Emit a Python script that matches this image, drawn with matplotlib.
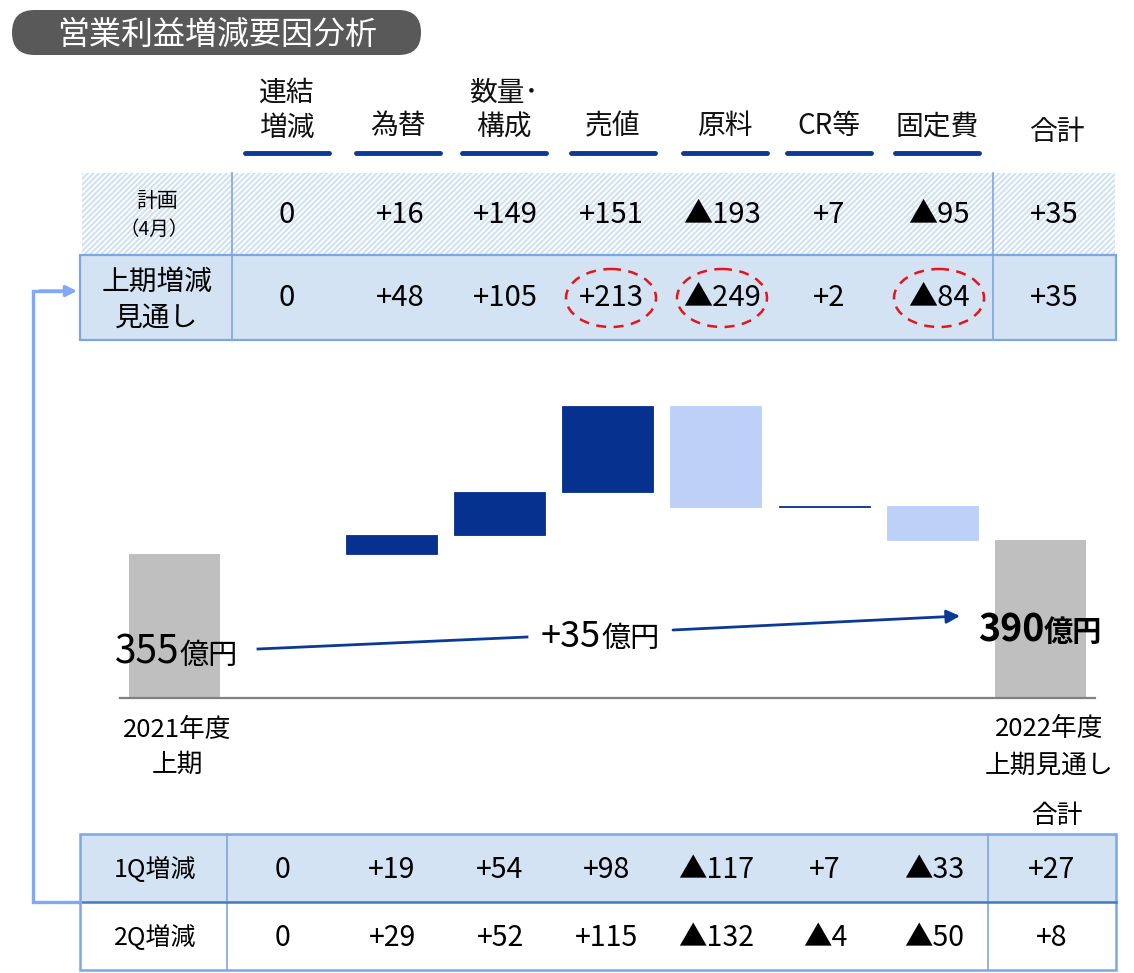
import matplotlib
matplotlib.use('Agg')
import matplotlib.pyplot as plt
from matplotlib.patches import Rectangle, FancyBboxPatch, Ellipse

plt.rcParams['font.family'] = ['Noto Sans CJK JP', 'DejaVu Sans']
plt.rcParams['hatch.linewidth'] = 1.6

# ---------------- data ----------------
title = '営業利益増減要因分析'
factors = ['連結\n増減', '為替', '数量･\n構成', '売値', '原料', 'CR等', '固定費']
total_label = '合計'

plan_label = '計画\n（4月）'
plan_vals = ['0', '+16', '+149', '+151', '▲193', '+7', '▲95']
plan_total = '+35'

outlook_label = '上期増減\n見通し'
outlook_vals = ['0', '+48', '+105', '+213', '▲249', '+2', '▲84']
outlook_total = '+35'
highlighted = ['売値', '原料', '固定費']

q1_label = '1Q増減'
q1_vals = ['0', '+19', '+54', '+98', '▲117', '+7', '▲33']
q1_total = '+27'
q2_label = '2Q増減'
q2_vals = ['0', '+29', '+52', '+115', '▲132', '▲4', '▲50']
q2_total = '+8'

start_label = '2021年度\n上期'
end_label = '2022年度\n上期見通し'
start_value = 355
deltas = [0, 48, 105, 213, -249, 2, -84]
end_value = 390
change_value = 35

# ---------------- colors ----------------
DARK = '#07318f'
LIGHT = '#bcd0f8'
GRAY = '#bfbfbf'
BORDER = '#7ea6e0'
ROWFILL = '#d3e3f3'
CONNECT = '#80a8f6'

W, H = 1134, 973
fig = plt.figure(figsize=(W / 100, H / 100), dpi=100)

# ---------------- waterfall axes (data coordinates) ----------------
px_per_unit = 0.405
base_py = 698
wx0, wx1 = 120.3, 1095.0
ymax = 800
axw = fig.add_axes([wx0 / W, (H - base_py) / H, (wx1 - wx0) / W, ymax * px_per_unit / H])
axw.set_xlim(-0.5, 8.5)
axw.set_ylim(0, ymax)
axw.patch.set_visible(False)
for s in ['top', 'left', 'right']:
    axw.spines[s].set_visible(False)
axw.spines['bottom'].set_color('#808080')
axw.spines['bottom'].set_linewidth(1.6)
axw.set_xticks([])
axw.set_yticks([])

bw = 0.84
axw.bar(0, start_value, width=bw, color=GRAY, linewidth=0)
running = start_value
for i, d in enumerate(deltas, start=1):
    if d != 0:
        col = DARK if d > 0 else LIGHT
        axw.bar(i, d, bottom=running, width=bw, color=col,
                edgecolor=col, linewidth=0.6)
    running += d
axw.bar(8, end_value, width=bw, color=GRAY, linewidth=0)

# ---------------- overlay axes (pixel coordinates) ----------------
ax = fig.add_axes([0, 0, 1, 1])
ax.set_xlim(0, W)
ax.set_ylim(H, 0)
ax.axis('off')

# title
ax.add_patch(FancyBboxPatch((12, 10), 409, 45,
                            boxstyle='round,pad=0,rounding_size=22.5',
                            facecolor='#595959', edgecolor='none'))
ax.text(217, 35, title, color='white', fontsize=23, ha='center', va='center')

# headers
header_x = [287, 398, 504, 613, 725, 829, 937]
for x, lab in zip(header_x, factors):
    lines = lab.split('\n')
    ys = [93, 128] if len(lines) == 2 else [126]
    for y, ln in zip(ys, lines):
        ax.text(x, y, ln, fontsize=20, ha='center', va='center', color='#111111')
    ax.plot([x - 42, x + 42], [153, 153], color='#0a3a94', lw=3.5,
            solid_capstyle='round')
ax.text(1057, 132, total_label, fontsize=20, ha='center', va='center', color='#111111')

# top table
top_x = [287, 400, 505, 611, 722, 829, 939]
tot_x_top = 1054
ax.add_patch(Rectangle((82, 173), 1115 - 82, 82, facecolor='white',
                       edgecolor='#d2e2f2', hatch='//////', linewidth=0))
ax.add_patch(Rectangle((80, 255), 1036, 85, facecolor=ROWFILL,
                       edgecolor=BORDER, linewidth=1.6))
for xv in [232, 993]:
    ax.plot([xv, xv], [173, 340], color=BORDER, lw=1.2)

pl = plan_label.split('\n')
ax.text(157, 201, pl[0], fontsize=15, ha='center', va='center')
ax.text(154, 229, pl[1], fontsize=14, ha='center', va='center')
ol = outlook_label.split('\n')
ax.text(157, 282, ol[0], fontsize=20, ha='center', va='center')
ax.text(157, 318, ol[1], fontsize=20, ha='center', va='center')

for x, v in zip(top_x, plan_vals):
    ax.text(x, 215, v, fontsize=21, ha='center', va='center')
ax.text(tot_x_top, 215, plan_total, fontsize=21, ha='center', va='center')
for x, v in zip(top_x, outlook_vals):
    ax.text(x, 298, v, fontsize=21, ha='center', va='center')
ax.text(tot_x_top, 298, outlook_total, fontsize=21, ha='center', va='center')

for x, lab in zip(top_x, factors):
    if lab in highlighted:
        ax.add_patch(Ellipse((x, 298), 90, 58, fill=False, edgecolor='#e8141b',
                             linewidth=1.8, linestyle=(0, (4, 3))))

# bottom table
bot_x = [282, 392, 500, 606, 716, 825, 934]
tot_x_bot = 1052
ax.add_patch(Rectangle((80, 834), 1036, 68, facecolor=ROWFILL, linewidth=0))
ax.add_patch(Rectangle((80, 902), 1036, 68, facecolor='white', linewidth=0))
for xv in [227, 988]:
    ax.plot([xv, xv], [834, 970], color=BORDER, lw=1.2)
ax.add_patch(Rectangle((80, 834), 1036, 136, fill=False, edgecolor=BORDER, linewidth=1.8))
ax.plot([80, 1116], [902, 902], color='#3f7cc0', lw=1.8)

ax.text(155, 870, q1_label, fontsize=18, ha='center', va='center')
ax.text(155, 938, q2_label, fontsize=18, ha='center', va='center')
for x, v in zip(bot_x, q1_vals):
    ax.text(x, 870, v, fontsize=20.5, ha='center', va='center')
ax.text(tot_x_bot, 870, q1_total, fontsize=20.5, ha='center', va='center')
for x, v in zip(bot_x, q2_vals):
    ax.text(x, 938, v, fontsize=20.5, ha='center', va='center')
ax.text(tot_x_bot, 938, q2_total, fontsize=20.5, ha='center', va='center')
ax.text(1057, 816, total_label, fontsize=18.5, ha='center', va='center')

# connector arrow
ax.plot([80, 33, 33, 60], [902, 902, 291, 291], color=CONNECT, lw=2.4,
        solid_joinstyle='miter')
ax.annotate('', xy=(77, 291), xytext=(40, 291),
            arrowprops=dict(arrowstyle='-|>', color=CONNECT, lw=2.4,
                            mutation_scale=16, shrinkA=0, shrinkB=0))

# category labels under waterfall
sl = start_label.split('\n')
ax.text(177, 730, sl[0], fontsize=18.5, ha='center', va='center')
ax.text(177, 765, sl[1], fontsize=18.5, ha='center', va='center')
el = end_label.split('\n')
ax.text(1049, 729, el[0], fontsize=18.5, ha='center', va='center')
ax.text(1049, 766, el[1], fontsize=18.5, ha='center', va='center')

# value annotations
ax.text(179, 664, f'{start_value}', fontsize=28, ha='right', va='baseline')
ax.text(179, 664, '億円', fontsize=21, ha='left', va='baseline')
ax.plot([258, 527], [649, 637], color='#0a3a94', lw=2)
ax.text(601, 647, f'+{change_value}', fontsize=26, ha='right', va='baseline')
ax.text(601, 647, '億円', fontsize=21, ha='left', va='baseline')
ax.annotate('', xy=(960, 616), xytext=(673, 630),
            arrowprops=dict(arrowstyle='-|>', color='#0a3a94', lw=2,
                            mutation_scale=20, shrinkA=0, shrinkB=0))
ax.text(1044, 641, f'{end_value}', fontsize=27, fontweight='bold', ha='right', va='baseline')
ax.text(1044, 641, '億円', fontsize=21, fontweight='bold', ha='left', va='baseline')

fig.savefig('out.png', dpi=100)
